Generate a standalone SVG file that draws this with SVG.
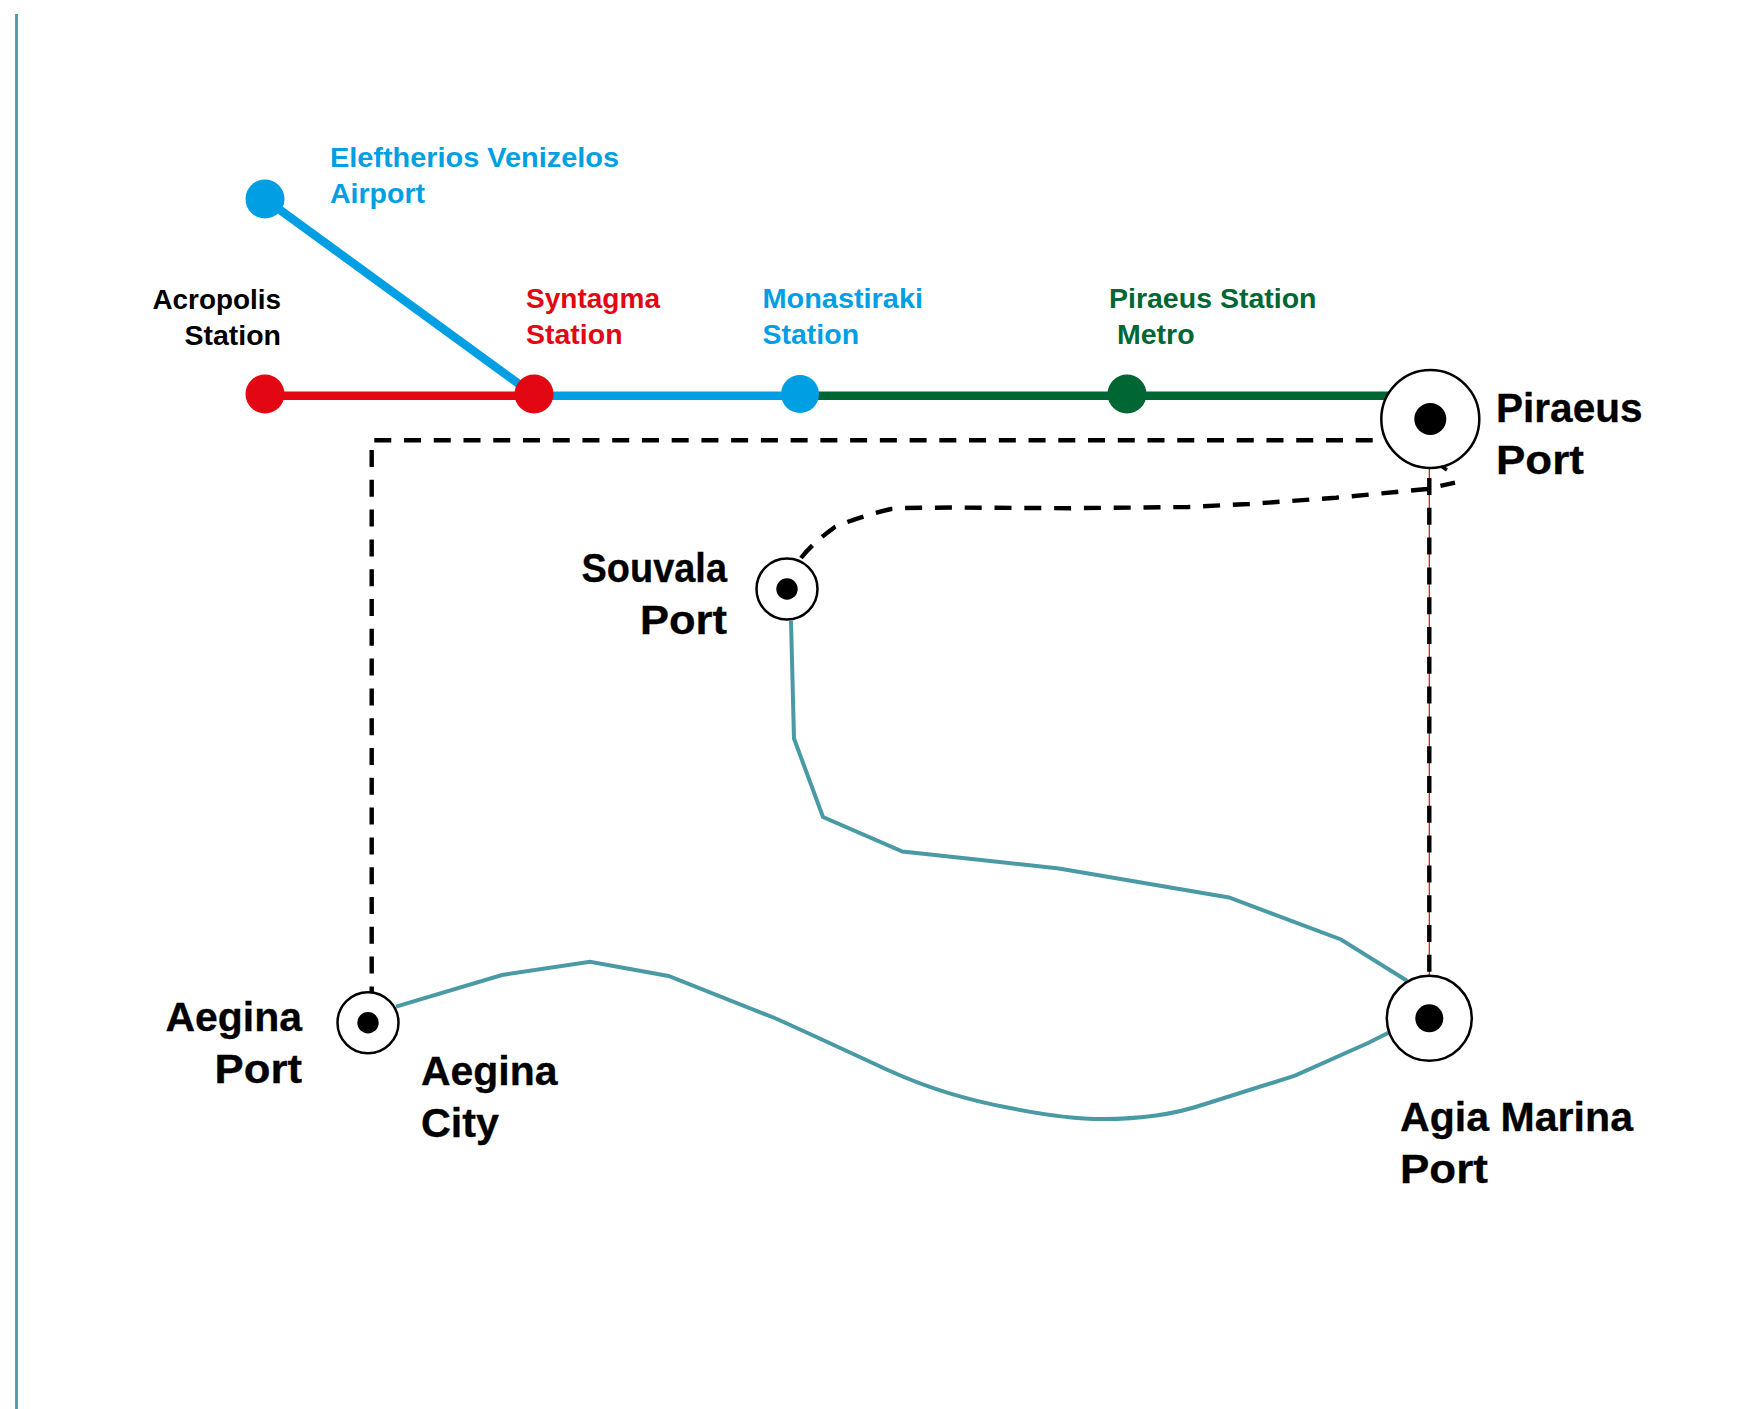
<svg xmlns="http://www.w3.org/2000/svg" width="1755" height="1409" viewBox="0 0 1755 1409">
<style>
text{font-family:"Liberation Sans",Arial,sans-serif;font-weight:bold}
.big{font-size:40.5px;fill:#000;stroke:#000;stroke-width:.3}
.sm{font-size:28.5px}
.end{text-anchor:end}
.line{fill:none;stroke-width:8.5}
.teal{fill:none;stroke:#4a9aa5;stroke-width:4}
.dash{fill:none;stroke:#000;stroke-width:4.4;stroke-dasharray:17 12.800}
.ring{fill:#fff;stroke:#000;stroke-width:2.5}
.blue{fill:#009fe3}.red{fill:#e30613}.green{fill:#006633}.blk{fill:#000}
</style>
<rect width="1755" height="1409" fill="#fff"/>
<path d="M16.500 14V1409" fill="none" stroke="#4a9aa5" stroke-width="2.800"/>
<g id="connectors">
<path class="line" stroke="#009fe3" d="M265 199L534 395"/>
<path class="line" stroke="#e30613" d="M265 395.700H534"/>
<path class="line" stroke="#009fe3" d="M534 395.700H800"/>
<path class="line" stroke="#006633" d="M800 395.700H1400"/>
<path class="dash" style="stroke-dasharray:17 12.740" d="M1372.700 440.300H374.300"/>
<path class="dash" d="M371.700 450V992"/>
<path class="dash" d="M801 558C811 545 824 535 835 527C848 521 870 514 891 509L905 508L952 507.500L1070 508.200L1188 507L1249 504L1336 497.700L1396 492L1427 489L1455 482.700"/>
<path d="M1441 466L1447 470" fill="none" stroke="#000" stroke-width="3.500"/>
<path d="M1429.300 468V976" fill="none" stroke="#e30613" stroke-width="1.200"/>
<path class="dash" d="M1429.300 478V972"/>
<path class="teal" d="M791 621L794 738.500L823 817L902.500 851.500L1059 868.500L1229 897.500L1341 939.500L1407 980.700"/>
<path class="teal" d="M396 1006.700L502 975L590 961.700L668.500 976L774.600 1018C815 1036 855 1055 890 1071C932 1090 972 1101 1010 1108C1040 1114 1072 1119 1103 1119C1140 1119 1175 1114 1202 1105L1295 1075.700L1368 1043L1390 1032"/>
</g>
<g id="airport"><circle class="blue" cx="265" cy="199" r="19.500"/><text class="sm blue" x="330" y="166.500" textLength="289" lengthAdjust="spacingAndGlyphs">Eleftherios Venizelos</text><text class="sm blue" x="330" y="202.500">Airport</text></g>
<g id="acropolis"><circle class="red" cx="265" cy="394" r="19.500"/><text class="sm blk end" x="281" y="309" textLength="128.500" lengthAdjust="spacingAndGlyphs">Acropolis</text><text class="sm blk end" x="281" y="345">Station</text></g>
<g id="syntagma"><circle class="red" cx="534" cy="394" r="19.500"/><text class="sm red" x="526" y="308" textLength="134" lengthAdjust="spacingAndGlyphs">Syntagma</text><text class="sm red" x="526" y="344">Station</text></g>
<g id="monastiraki"><circle class="blue" cx="800" cy="394" r="19"/><text class="sm blue" x="762.500" y="308" textLength="160.500" lengthAdjust="spacingAndGlyphs">Monastiraki</text><text class="sm blue" x="762.500" y="344">Station</text></g>
<g id="piraeus-station"><circle class="green" cx="1127" cy="394" r="19.500"/><text class="sm green" x="1109" y="308">Piraeus Station</text><text class="sm green" x="1117" y="344">Metro</text></g>
<g id="piraeus-port"><circle class="ring" cx="1430.300" cy="419" r="49"/><circle class="blk" cx="1430.300" cy="419" r="16"/><text class="big" x="1496" y="422" textLength="146.500" lengthAdjust="spacingAndGlyphs">Piraeus</text><text class="big" x="1496" y="473.500" textLength="88" lengthAdjust="spacingAndGlyphs">Port</text></g>
<g id="agia-marina"><circle class="ring" cx="1429.300" cy="1018.300" r="42.500"/><circle class="blk" cx="1429.300" cy="1018.300" r="14"/><text class="big" x="1400" y="1131" textLength="233" lengthAdjust="spacingAndGlyphs">Agia Marina</text><text class="big" x="1400" y="1182.500" textLength="88" lengthAdjust="spacingAndGlyphs">Port</text></g>
<g id="souvala"><circle class="ring" cx="787" cy="589" r="30.500"/><circle class="blk" cx="787" cy="589" r="10.700"/><text class="big end" x="727" y="582" textLength="145.500" lengthAdjust="spacingAndGlyphs">Souvala</text><text class="big end" x="727" y="633.500" textLength="87" lengthAdjust="spacingAndGlyphs">Port</text></g>
<g id="aegina"><circle class="ring" cx="368" cy="1022.700" r="30.500"/><circle class="blk" cx="368" cy="1022.700" r="10.700"/><text class="big end" x="302" y="1031" textLength="136.500" lengthAdjust="spacingAndGlyphs">Aegina</text><text class="big end" x="302" y="1082.500" textLength="87.500" lengthAdjust="spacingAndGlyphs">Port</text><text class="big" x="421" y="1085" textLength="136.500" lengthAdjust="spacingAndGlyphs">Aegina</text><text class="big" x="421" y="1136.500" textLength="78" lengthAdjust="spacingAndGlyphs">City</text></g>
</svg>
